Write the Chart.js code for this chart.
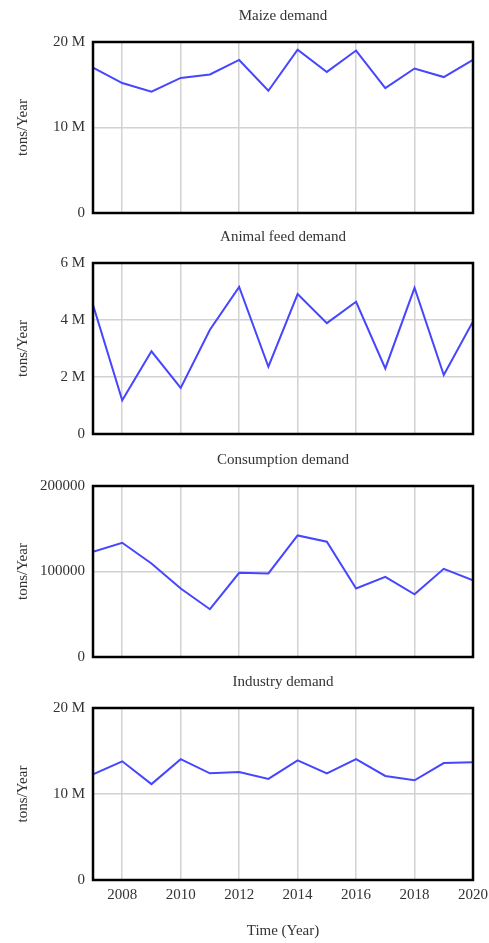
<!DOCTYPE html>
<html>
<head>
<meta charset="utf-8">
<script src="https://cdn.jsdelivr.net/npm/chart.js@4.4.0/dist/chart.umd.min.js"></script>
<style>
  body { margin: 0; background: #fff; }
  #wrap { position: relative; width: 489px; height: 943px; }
  canvas { position: absolute; left: 0; }
</style>
</head>
<body>
<div id="wrap">
  <canvas id="maize" width="489" height="222" style="top:0px"></canvas>
  <canvas id="feed" width="489" height="222" style="top:221px"></canvas>
  <canvas id="consumption" width="489" height="222" style="top:444px"></canvas>
  <canvas id="industry" width="489" height="277" style="top:666px"></canvas>
</div>
<script>
var years = [2007, 2008, 2009, 2010, 2011, 2012, 2013, 2014, 2015, 2016, 2017, 2018, 2019, 2020];
var maizeDemand = [17.0e6, 15.2e6, 14.2e6, 15.8e6, 16.2e6, 17.9e6, 14.3e6, 19.1e6, 16.5e6, 19.0e6, 14.6e6, 16.9e6, 15.9e6, 17.9e6];
var animalFeedDemand = [4.53e6, 1.18e6, 2.90e6, 1.62e6, 3.66e6, 5.16e6, 2.36e6, 4.91e6, 3.89e6, 4.64e6, 2.30e6, 5.13e6, 2.07e6, 3.95e6];
var consumptionDemand = [123000, 133600, 109400, 80100, 55900, 98400, 97700, 142200, 134800, 80100, 93700, 73400, 103100, 89800];
var industryDemand = [12.3e6, 13.8e6, 11.15e6, 14.05e6, 12.4e6, 12.55e6, 11.75e6, 13.9e6, 12.4e6, 14.05e6, 12.1e6, 11.6e6, 13.6e6, 13.7e6];

var xTicks = [2008, 2010, 2012, 2014, 2016, 2018, 2020];
var maizeTicks = [0, 10000000, 20000000];
var feedTicks = [0, 2000000, 4000000, 6000000];
var consumptionTicks = [0, 100000, 200000];
var industryTicks = [0, 10000000, 20000000];

var FONT = "'Liberation Serif', 'DejaVu Serif', serif";
Chart.defaults.font.family = FONT;
Chart.defaults.font.size = 15;
Chart.defaults.color = '#333';

function fmtMillions(v) { return v === 0 ? '0' : (v / 1000000) + ' M'; }
function fmtPlain(v) { return String(v); }

// black frame round the plot area + title centred over the plot
var boxPlugin = {
  id: 'box',
  afterDatasetsDraw: function (chart) {
    var a = chart.chartArea;
    var ctx = chart.ctx;
    ctx.save();
    ctx.strokeStyle = '#000';
    ctx.lineWidth = 2.5;
    ctx.strokeRect(a.left, a.top, a.right - a.left, a.bottom - a.top);
    ctx.restore();
  },
  afterDraw: function (chart) {
    var a = chart.chartArea;
    var ctx = chart.ctx;
    ctx.save();
    ctx.fillStyle = '#333';
    ctx.font = '15px ' + FONT;
    ctx.textAlign = 'center';
    ctx.textBaseline = 'middle';
    ctx.fillText(chart.options.plugins.box.text, (a.left + a.right) / 2, 16);
    ctx.restore();
  }
};

function makeChart(id, title, values, yTicks, fmt, showX) {
  var pts = years.map(function (y, i) { return { x: y, y: values[i] }; });
  return new Chart(document.getElementById(id), {
    type: 'line',
    data: {
      datasets: [{
        data: pts,
        borderColor: '#4646ff',
        borderWidth: 2,
        pointRadius: 0,
        tension: 0
      }]
    },
    plugins: [boxPlugin],
    options: {
      responsive: false,
      animation: false,
      layout: { padding: { left: 0, right: 16, top: 42, bottom: showX ? 3 : 9 } },
      plugins: {
        legend: { display: false },
        tooltip: { enabled: false },
        title: { display: false },
        box: { text: title }
      },
      scales: {
        x: {
          type: 'linear',
          min: 2007,
          max: 2020,
          afterBuildTicks: function (s) { s.ticks = xTicks.map(function (v) { return { value: v }; }); },
          afterFit: function (s) {
            s.height = showX ? 60 : 0;
            s.paddingLeft = 0; s.paddingRight = 0;
          },
          grid: { color: '#d2d2d2', lineWidth: 1.5, drawTicks: false },
          border: { display: false },
          ticks: { display: showX, padding: 6, maxRotation: 0, callback: function (v) { return String(v); } },
          title: { display: showX, text: 'Time (Year)', padding: { top: 0, bottom: 0 } }
        },
        y: {
          min: 0,
          max: yTicks[yTicks.length - 1],
          afterBuildTicks: function (s) { s.ticks = yTicks.map(function (v) { return { value: v }; }); },
          afterFit: function (s) {
            s.width = 93;
            s.paddingTop = 0; s.paddingBottom = 0;
          },
          grid: { color: '#d2d2d2', lineWidth: 1.5, drawTicks: false },
          border: { display: false },
          ticks: { padding: 8, callback: fmt },
          title: { display: true, text: 'tons/Year', padding: { top: 14, bottom: 0 } }
        }
      }
    }
  });
}

makeChart('maize', 'Maize demand', maizeDemand, maizeTicks, fmtMillions, false);
makeChart('feed', 'Animal feed demand', animalFeedDemand, feedTicks, fmtMillions, false);
makeChart('consumption', 'Consumption demand', consumptionDemand, consumptionTicks, fmtPlain, false);
makeChart('industry', 'Industry demand', industryDemand, industryTicks, fmtMillions, true);
</script>
</body>
</html>
